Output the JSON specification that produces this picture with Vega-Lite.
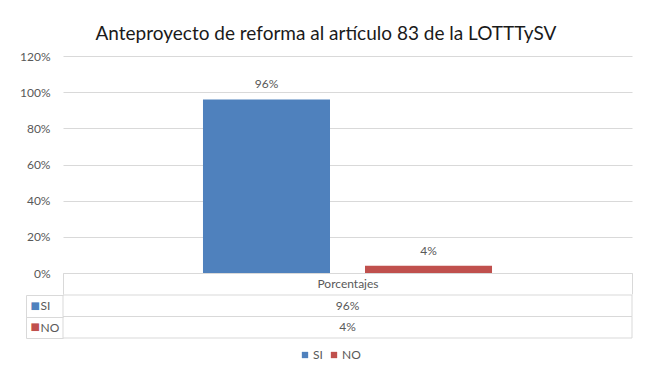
{
  "$schema": "https://vega.github.io/schema/vega-lite/v6.json",
  "padding": {"left": 19, "top": 25, "right": 5, "bottom": 5},
  "background": "white",
  "title": {"text": "Anteproyecto de reforma al artículo 83 de la LOTTTySV", "fontSize": 19, "font": "Lato", "fontWeight": "normal", "color": "#1a1a1a", "anchor": "middle", "offset": 6},
  "config": {"view": {"stroke": null}, "font": "Lato", "axis": {"labelFont": "Lato", "labelColor": "#595959", "labelFontSize": 12}},
  "spacing": -6,
  "resolve": {"scale": {"color": "independent"}, "legend": {"color": "independent"}},
  "vconcat": [
    {
      "width": 569,
      "height": 217,
      "data": {"values": [
        {"categoria": "Porcentajes", "serie": "SI", "valor": 0.96},
        {"categoria": "Porcentajes", "serie": "NO", "valor": 0.04}
      ]},
      "encoding": {
        "x": {"field": "categoria", "type": "nominal", "scale": {"paddingInner": 0, "paddingOuter": 0},
          "axis": {"title": null, "labelAngle": 0, "domainColor": "#d9d9d9", "tickColor": "#d9d9d9", "tickBand": "extent", "tickSize": 21, "labelBaseline": "middle", "labelPadding": -10.5}},
        "xOffset": {"field": "serie", "type": "nominal", "sort": ["SI", "NO"], "scale": {"paddingInner": 0.216, "paddingOuter": 0.864}},
        "y": {"field": "valor", "type": "quantitative", "scale": {"domain": [0, 1.2]},
          "axis": {"title": null, "values": [0, 0.2, 0.4, 0.6, 0.8, 1, 1.2], "format": ".0%", "domain": false, "ticks": false, "labelPadding": 13, "gridColor": "#d9d9d9"}}
      },
      "layer": [
        {"mark": {"type": "bar"},
         "encoding": {"color": {"field": "serie", "type": "nominal", "sort": ["SI", "NO"], "scale": {"range": ["#4f81bd", "#c0504d"]}, "legend": null}}},
        {"mark": {"type": "text", "dy": -8, "baseline": "bottom", "fontSize": 12, "color": "#595959"},
         "encoding": {"text": {"field": "valor", "type": "quantitative", "format": ".0%"}}}
      ]
    },
    {
      "width": 569,
      "height": 43,
      "data": {"values": [
        {"serie": "SI", "valor": 0.96},
        {"serie": "NO", "valor": 0.04}
      ]},
      "layer": [
        {"mark": {"type": "rect", "fill": "white", "stroke": "#d9d9d9", "strokeWidth": 1},
         "encoding": {"y": {"field": "serie", "type": "nominal", "sort": ["SI", "NO"], "scale": {"paddingInner": 0, "paddingOuter": 0},
           "axis": {"title": null, "orient": "left", "domain": false, "tickBand": "extent", "tickSize": 37, "tickColor": "#d9d9d9", "labelAlign": "left", "labelPadding": -14, "labelBaseline": "middle"}}}},
        {"mark": {"type": "text", "fontSize": 12, "color": "#595959"},
         "encoding": {
           "y": {"field": "serie", "type": "nominal", "sort": ["SI", "NO"],
             "axis": {"title": null, "orient": "left", "offset": 37, "domainColor": "#d9d9d9", "ticks": false, "labelExpr": "'■'",
               "labelColor": {"condition": {"test": "datum.value == 'SI'", "value": "#4f81bd"}, "value": "#c0504d"},
               "labelAlign": "left", "labelPadding": -4, "labelFont": "DejaVu Sans", "labelFontSize": 10, "labelBaseline": "middle"}},
           "text": {"field": "valor", "type": "quantitative", "format": ".0%"}}},
        {"mark": {"type": "square", "opacity": 0.001},
         "encoding": {
           "y": {"field": "serie", "type": "nominal", "sort": ["SI", "NO"], "axis": null},
           "color": {"field": "serie", "type": "nominal", "sort": ["SI", "NO"], "scale": {"range": ["#4f81bd", "#c0504d"]},
             "legend": {"orient": "none", "legendX": 236, "legendY": 54, "direction": "horizontal", "title": null, "symbolType": "square", "symbolSize": 40, "symbolOpacity": 1, "labelFontSize": 12, "labelColor": "#595959", "labelFont": "Lato", "labelOffset": 2, "columnPadding": 5}}}}
      ],
      "resolve": {"axis": {"y": "independent"}}
    }
  ]
}
